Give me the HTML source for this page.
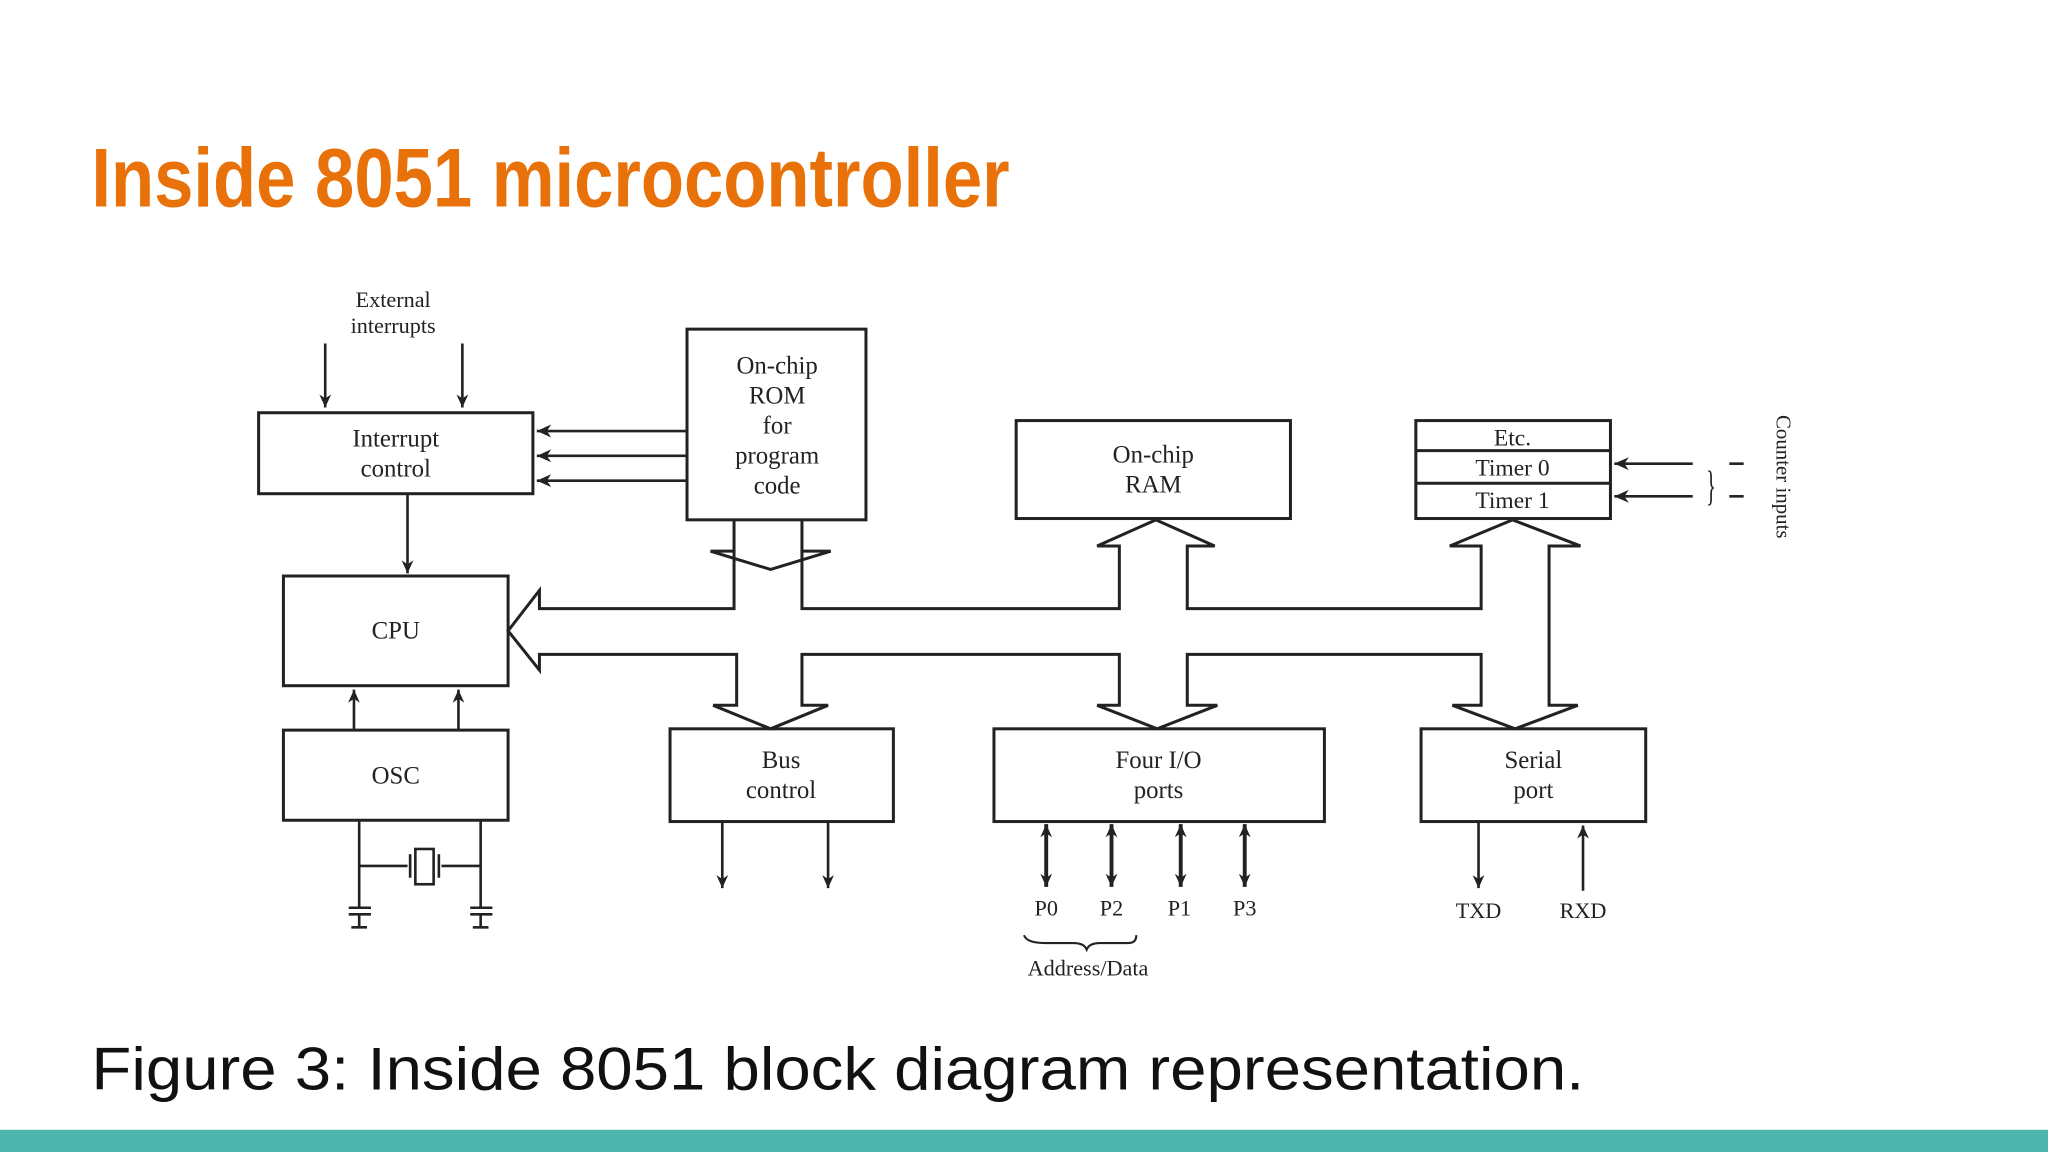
<!DOCTYPE html>
<html><head><meta charset="utf-8"><style>
html,body{margin:0;padding:0;background:#fff;}
svg{display:block;}
</style></head><body>
<svg width="2048" height="1152" viewBox="0 0 1568 882" xmlns="http://www.w3.org/2000/svg">
<defs>
<marker id="ah" viewBox="0 0 10 10" refX="10" refY="5" markerWidth="12" markerHeight="10" orient="auto-start-reverse" markerUnits="userSpaceOnUse">
<path d="M0,0.5 L10,5 L0,9.5 L3,5 z" fill="#222"/></marker>
<marker id="ah2" viewBox="0 0 10 10" refX="10" refY="5" markerWidth="16" markerHeight="11" orient="auto-start-reverse" markerUnits="userSpaceOnUse">
<path d="M0,0.5 L10,5 L0,9.5 L3,5 z" fill="#222"/></marker>
</defs>
<rect width="1568" height="882" fill="#fff"/>
<text x="70" y="158" font-family="'Liberation Sans Narrow','Liberation Sans',sans-serif" font-weight="bold" font-size="64" fill="#e8710a" textLength="703" lengthAdjust="spacingAndGlyphs">Inside 8051  microcontroller</text>
<text x="70" y="834" font-family="'Liberation Sans',sans-serif" font-size="46" fill="#111" textLength="1143" lengthAdjust="spacingAndGlyphs">Figure 3: Inside 8051 block diagram representation.</text>
<rect x="0" y="865" width="1568" height="17" fill="#4db6ac"/>

<g fill="none" stroke="#222" stroke-width="2.3">
<rect x="198" y="316" width="210" height="62"/>
<rect x="526" y="252" width="137" height="146"/>
<rect x="778" y="322" width="210" height="75"/>
<rect x="1084" y="322" width="149" height="75"/>
<line x1="1084" y1="345" x2="1233" y2="345"/>
<line x1="1084" y1="370" x2="1233" y2="370"/>
<rect x="217" y="441" width="172" height="84"/>
<rect x="217" y="559" width="172" height="69"/>
<rect x="513" y="558" width="171" height="71"/>
<rect x="761" y="558" width="253" height="71"/>
<rect x="1088" y="558" width="172" height="71"/>
<path d="M562,398 V422 H544 L590,436 L636,422 H614 V398"/>
<path d="M562,422 V466 H413 V452 L389,483 L413,513 V501 H564 V540 H546 L590,558 L634,540 H614 V501 H857 V540 H840 L886,558 L932,540 H909 V501 H1134 V540 H1112 L1160,558 L1208,540 H1186 V418 H1210 L1158,398 L1110,418 H1134 V466 H909 V418 H930 L885,398 L840,418 H857 V466 H614 V422"/>
</g>

<g stroke="#222" stroke-width="2" fill="none">
<line x1="249" y1="263" x2="249" y2="312" marker-end="url(#ah)"/>
<line x1="354" y1="263" x2="354" y2="312" marker-end="url(#ah)"/>
<line x1="526" y1="330" x2="411" y2="330" marker-end="url(#ah2)"/>
<line x1="526" y1="349" x2="411" y2="349" marker-end="url(#ah2)"/>
<line x1="526" y1="368" x2="411" y2="368" marker-end="url(#ah2)"/>
<line x1="312" y1="378" x2="312" y2="439" marker-end="url(#ah)"/>
<line x1="271" y1="559" x2="271" y2="528" marker-end="url(#ah)"/>
<line x1="351" y1="559" x2="351" y2="528" marker-end="url(#ah)"/>
<line x1="275" y1="628" x2="275" y2="695"/>
<line x1="368" y1="628" x2="368" y2="695"/>
<line x1="275" y1="663" x2="312" y2="663"/>
<line x1="338" y1="663" x2="368" y2="663"/>
<line x1="314" y1="654" x2="314" y2="672"/>
<line x1="336" y1="654" x2="336" y2="672"/>
<rect x="318" y="650" width="14" height="27"/>
<line x1="267" y1="695" x2="284" y2="695"/><line x1="267" y1="700" x2="284" y2="700"/>
<line x1="275" y1="700" x2="275" y2="710"/><line x1="269" y1="710" x2="281" y2="710"/>
<line x1="360" y1="695" x2="377" y2="695"/><line x1="360" y1="700" x2="377" y2="700"/>
<line x1="368" y1="700" x2="368" y2="710"/><line x1="362" y1="710" x2="374" y2="710"/>
<line x1="553" y1="629" x2="553" y2="680" marker-end="url(#ah)"/>
<line x1="634" y1="629" x2="634" y2="680" marker-end="url(#ah)"/>
<g stroke-width="3">
<line x1="801" y1="631" x2="801" y2="679" marker-start="url(#ah)" marker-end="url(#ah)"/>
<line x1="851" y1="631" x2="851" y2="679" marker-start="url(#ah)" marker-end="url(#ah)"/>
<line x1="904" y1="631" x2="904" y2="679" marker-start="url(#ah)" marker-end="url(#ah)"/>
<line x1="953" y1="631" x2="953" y2="679" marker-start="url(#ah)" marker-end="url(#ah)"/>
</g>
<line x1="1132" y1="629" x2="1132" y2="680" marker-end="url(#ah)"/>
<line x1="1212" y1="682" x2="1212" y2="632" marker-end="url(#ah)"/>
<line x1="1296" y1="355" x2="1236" y2="355" marker-end="url(#ah2)"/>
<line x1="1296" y1="380" x2="1236" y2="380" marker-end="url(#ah2)"/>
<line x1="1324" y1="355" x2="1335" y2="355"/>
<line x1="1324" y1="380" x2="1335" y2="380"/>
<path d="M784,716 Q786,722 800,722 H822 Q830,722 832,727 Q834,722 842,722 H864 Q870,722 870,716" stroke-width="1.6"/>
</g>

<g font-family="'Liberation Serif',serif" font-size="19" fill="#222" text-anchor="middle">
<text x="301" y="235" font-size="17">External</text>
<text x="301" y="255" font-size="17">interrupts</text>
<text x="303" y="342">Interrupt</text>
<text x="303" y="365">control</text>
<text x="595" y="286">On-chip</text>
<text x="595" y="309">ROM</text>
<text x="595" y="332">for</text>
<text x="595" y="355">program</text>
<text x="595" y="378">code</text>
<text x="883" y="354">On-chip</text>
<text x="883" y="377">RAM</text>
<text x="1158" y="341" font-size="18">Etc.</text>
<text x="1158" y="364" font-size="18">Timer 0</text>
<text x="1158" y="389" font-size="18">Timer 1</text>
<text x="303" y="489">CPU</text>
<text x="303" y="600">OSC</text>
<text x="598" y="588">Bus</text>
<text x="598" y="611">control</text>
<text x="887" y="588">Four I/O</text>
<text x="887" y="611">ports</text>
<text x="1174" y="588">Serial</text>
<text x="1174" y="611">port</text>
<g font-size="17">
<text x="801" y="701">P0</text>
<text x="851" y="701">P2</text>
<text x="903" y="701">P1</text>
<text x="953" y="701">P3</text>
<text x="1132" y="703">TXD</text>
<text x="1212" y="703">RXD</text>
<text x="833" y="747">Address/Data</text>
</g>
<text x="1310" y="383" font-size="32" transform="translate(1310,367) scale(0.5,1) translate(-1310,-367)">}</text>
<text x="0" y="0" font-size="16" transform="translate(1360,365) rotate(90)">Counter inputs</text>
</g>
</svg>
</body></html>
